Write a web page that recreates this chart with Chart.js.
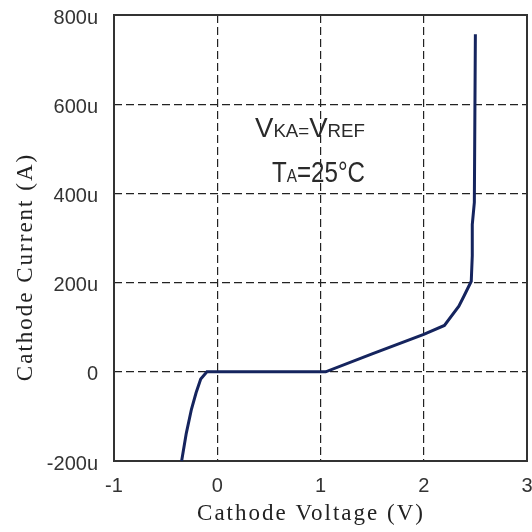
<!DOCTYPE html>
<html>
<head>
<meta charset="utf-8">
<script src="https://cdn.jsdelivr.net/npm/chart.js@4.4.0/dist/chart.umd.min.js"></script>
<style>
  html, body { margin: 0; padding: 0; background: #fff; }
</style>
</head>
<body>
<canvas id="chart" width="532" height="532"></canvas>
<script>
// === Data (V, uA) ===
const voltage = [-0.345, -0.30, -0.25, -0.205, -0.16, -0.10, 1.05, 1.5, 2.0, 2.2, 2.34, 2.39, 2.46, 2.47, 2.47, 2.49, 2.50];
const current = [-200, -138, -84, -47, -16, 0, 0, 40, 84, 104, 147, 170, 203, 260, 330, 380, 757];
const xTicks = [-1, 0, 1, 2, 3];
const yTicks = [-200, 0, 200, 400, 600, 800];

const xTitle = "Cathode Voltage (V)";
const yTitle = "Cathode Current (A)";

const points = voltage.map((v, i) => ({ x: v, y: current[i] }));

// frame, axis titles, annotation
const extras = {
    id: "extras",
    beforeDatasetsDraw(chart) {
        const { ctx, chartArea: a } = chart;
        ctx.save();
        ctx.strokeStyle = "#333";
        ctx.lineWidth = 2;
        ctx.setLineDash([]);
        ctx.strokeRect(a.left, a.top, a.right - a.left, a.bottom - a.top);
        ctx.restore();
    },
    afterDraw(chart) {
        const ctx = chart.ctx;
        ctx.save();
        ctx.fillStyle = "#222";
        ctx.font = '23px "Liberation Serif"';
        ctx.letterSpacing = "2px";
        ctx.textAlign = "center";
        ctx.textBaseline = "middle";
        ctx.fillText(xTitle, 311, 514);
        ctx.translate(26, 267);
        ctx.rotate(-Math.PI / 2);
        ctx.fillText(yTitle, 0, 0);
        ctx.restore();

        drawRich(ctx, [["V", 28], ["KA", 19], ["=", 19], ["V", 28], ["REF", 19]], 255, 137, 110);
        drawRich(ctx, [["T", 30], ["A", 19], ["=25°C", 30]], 272, 182, 93);
    }
};

function drawRich(ctx, parts, x0, baseline, width) {
    ctx.save();
    ctx.textBaseline = "alphabetic";
    ctx.textAlign = "left";
    let total = 0;
    parts.forEach(([t, s]) => {
        ctx.font = s + 'px "Liberation Sans"';
        total += ctx.measureText(t).width;
    });
    ctx.translate(x0, baseline);
    ctx.scale(width / total, 1);
    ctx.fillStyle = "#2a2a2a";
    let x = 0;
    parts.forEach(([t, s]) => {
        ctx.font = s + 'px "Liberation Sans"';
        ctx.fillText(t, x, 0);
        x += ctx.measureText(t).width;
    });
    ctx.restore();
}

const gridOpts = { color: "#222", lineWidth: 1.2, drawTicks: false, tickLength: 0 };
const borderOpts = { display: false, dash: [8, 4] };
const tickFont = { family: "Liberation Sans", size: 20 };

new Chart(document.getElementById("chart"), {
    type: "line",
    data: {
        datasets: [{
            data: points,
            borderColor: "#15245e",
            borderWidth: 3,
            pointRadius: 0,
            tension: 0,
            fill: false
        }]
    },
    options: {
        responsive: false,
        animation: false,
        devicePixelRatio: 1,
        layout: { padding: { top: 15, right: 5, left: 0, bottom: 0 } },
        plugins: { legend: { display: false }, tooltip: { enabled: false } },
        scales: {
            x: {
                type: "linear",
                min: -1,
                max: 3,
                afterBuildTicks: s => { s.ticks = xTicks.map(v => ({ value: v })); },
                afterFit: s => { s.height = 71; s.paddingLeft = 0; s.paddingRight = 0; },
                grid: gridOpts,
                border: borderOpts,
                ticks: { font: tickFont, color: "#333", padding: 13 }
            },
            y: {
                type: "linear",
                min: -200,
                max: 800,
                afterBuildTicks: s => { s.ticks = yTicks.map(v => ({ value: v })); },
                afterFit: s => { s.width = 114; s.paddingTop = 0; s.paddingBottom = 0; },
                grid: gridOpts,
                border: borderOpts,
                ticks: {
                    font: tickFont,
                    color: "#333",
                    padding: 16,
                    labelOffset: 3,
                    callback: v => (v === 0 ? "0" : v + "u")
                }
            }
        }
    },
    plugins: [extras]
});
</script>
</body>
</html>
